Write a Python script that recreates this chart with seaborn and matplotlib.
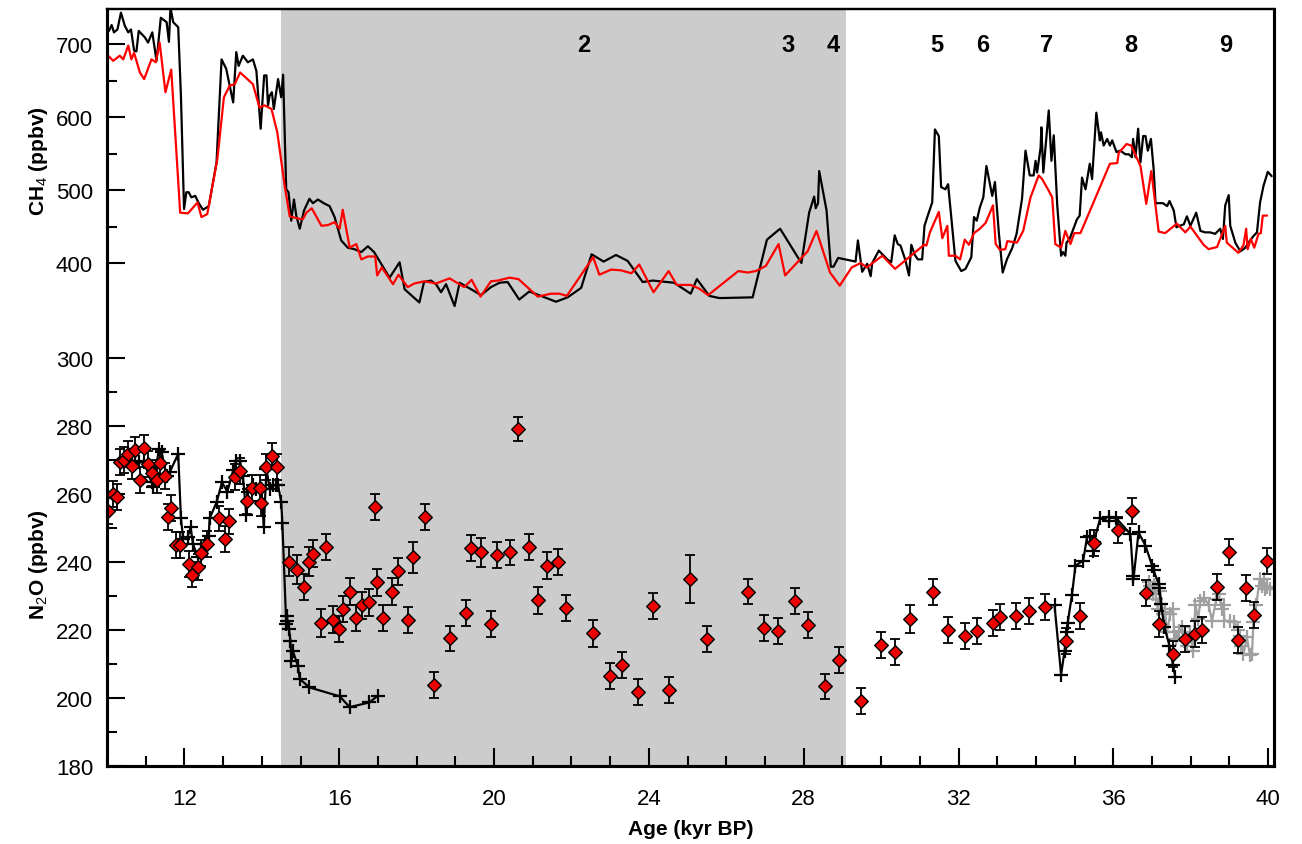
import matplotlib
matplotlib.use("Agg")
import matplotlib.pyplot as plt
import seaborn as sns
import pandas as pd
import numpy as np
from matplotlib.ticker import MultipleLocator, FixedLocator

# ---------------- data ----------------
# CH4 (black, high-resolution record)
ch4_black_age = [10.05,10.12,10.18,10.27,10.36,10.46,10.55,10.62,10.70,10.76,10.82,10.98,11.06,11.17,11.28,11.39,
    11.54,11.60,11.64,11.71,11.84,11.91,11.99,12.05,12.11,12.18,12.28,12.37,12.48,12.63,12.83,12.96,13.08,13.26,
    13.34,13.40,13.51,13.64,13.77,13.86,13.97,14.06,14.12,14.16,14.20,14.26,14.31,14.42,14.50,14.55,14.63,14.69,
    14.76,14.83,14.89,14.98,15.09,15.23,15.32,15.45,15.60,15.75,15.88,16.05,16.22,16.39,16.57,16.74,16.90,17.07,
    17.30,17.56,17.69,18.07,18.19,18.37,18.50,18.63,18.76,18.98,19.11,19.41,19.66,19.92,20.14,20.35,20.65,20.91,
    21.21,21.60,21.90,22.25,22.52,22.83,23.15,23.45,23.84,24.10,24.65,25.08,25.24,25.56,25.82,26.68,27.05,27.39,
    27.94,28.14,28.27,28.31,28.37,28.40,28.59,28.70,28.77,28.89,29.34,29.40,29.51,29.64,29.73,29.77,29.94,30.16,
    30.26,30.35,30.43,30.50,30.62,30.72,30.78,30.87,30.95,31.06,31.12,31.23,31.32,31.39,31.49,31.55,31.66,31.73,
    31.92,32.07,32.18,32.33,32.40,32.47,32.55,32.64,32.72,32.87,32.94,33.04,33.14,33.25,33.39,33.50,33.64,33.73,
    33.84,33.94,33.99,34.03,34.12,34.14,34.19,34.33,34.40,34.46,34.55,34.65,34.70,34.76,34.79,34.87,35.06,35.13,
    35.19,35.28,35.39,35.45,35.56,35.65,35.68,35.75,35.84,35.91,35.97,36.08,36.18,36.31,36.40,36.48,36.51,36.57,
    36.64,36.70,36.77,36.83,36.89,36.97,37.04,37.09,37.28,37.39,37.45,37.56,37.63,37.71,37.82,37.90,37.99,38.14,
    38.25,38.37,38.50,38.63,38.76,38.83,38.89,38.98,39.02,39.15,39.28,39.41,39.49,39.62,39.71,39.79,39.88,39.99,40.09]
ch4_black_val = [718,726,716,720,743,725,716,720,691,690,718,709,702,716,677,736,
    730,703,750,730,723,629,474,497,497,490,492,482,473,478,538,679,666,620,
    689,670,684,675,679,663,584,657,657,616,629,634,611,652,627,658,501,497,
    458,487,465,447,472,488,482,487,482,478,463,431,421,419,415,423,415,400,
    380,401,364,346,374,376,371,360,371,341,373,364,356,367,373,374,350,361,
    355,347,353,366,412,402,411,403,374,376,373,358,378,355,352,353,432,447,
    400,469,491,475,482,526,472,395,395,407,402,431,388,399,382,400,417,405,
    401,438,426,424,405,383,425,411,405,405,451,469,483,583,574,504,501,508,
    403,389,392,408,463,458,476,490,533,492,511,442,387,405,421,440,488,554,
    520,520,540,524,558,586,524,609,540,575,479,410,415,410,428,433,460,465,
    517,501,536,515,606,568,579,561,570,561,568,552,554,549,549,545,570,545,
    584,538,574,574,554,570,529,482,482,478,485,472,449,451,453,464,451,469,
    444,442,442,440,447,433,479,493,451,428,416,421,428,437,442,483,506,525,519]

# CH4 (red record)
ch4_red_age = [10.05,10.16,10.33,10.42,10.55,10.63,10.70,10.85,10.96,11.15,11.26,11.36,11.51,11.66,11.89,12.09,
    12.34,12.44,12.59,12.85,13.02,13.17,13.30,13.44,13.77,13.94,14.07,14.25,14.40,14.59,14.72,14.93,15.06,15.15,
    15.29,15.54,15.71,15.88,16.01,16.09,16.27,16.44,16.57,16.74,16.93,16.98,17.10,17.39,17.53,17.77,17.94,18.20,
    18.50,18.85,19.23,19.42,19.65,19.92,20.10,20.40,20.63,21.13,21.47,21.69,21.88,22.56,22.72,23.02,23.28,23.55,
    23.75,24.12,24.51,24.72,25.08,25.30,25.53,26.31,26.55,26.76,27.02,27.35,27.52,28.10,28.33,28.68,28.93,29.24,
    29.47,29.63,30.03,30.36,31.11,31.17,31.26,31.49,31.58,31.71,31.75,31.92,32.04,32.16,32.27,32.40,32.55,32.70,
    32.89,32.96,33.07,33.21,33.26,33.51,33.67,33.86,34.07,34.16,34.31,34.42,34.50,34.65,34.76,34.89,34.99,35.15,
    35.91,36.10,36.14,36.34,36.46,36.70,36.85,36.98,37.17,37.34,37.64,37.86,37.99,38.33,38.46,38.68,38.89,38.93,
    39.23,39.36,39.43,39.47,39.55,39.64,39.75,39.81,39.86,39.97]
ch4_red_val = [683,677,684,679,698,679,688,661,652,679,675,702,634,665,469,468,
    483,463,467,542,627,643,645,661,645,613,616,611,579,506,464,461,460,469,
    475,451,452,456,447,473,421,426,405,409,409,383,394,371,384,367,372,375,
    372,379,367,377,354,375,376,380,378,354,358,358,355,408,384,391,390,386,
    398,360,389,370,370,365,356,389,387,389,396,426,383,416,444,387,369,394,
    400,394,410,392,425,424,442,470,434,451,410,410,405,432,425,441,447,455,
    479,426,418,419,430,428,444,490,520,515,501,490,426,421,444,426,441,441,
    536,537,551,563,561,533,481,526,443,441,454,442,450,425,419,422,451,428,
    414,424,447,419,433,421,440,441,465,465]

# N2O discrete measurements (red diamonds) with 1-sigma errors
n2o_pt_age = [10.03,10.16,10.26,10.33,10.43,10.55,10.65,10.72,10.86,10.96,11.06,11.15,11.28,11.37,11.51,11.58,
    11.66,11.79,11.89,12.11,12.20,12.34,12.44,12.58,12.89,13.04,13.14,13.30,13.44,13.62,13.75,13.94,13.99,14.12,
    14.25,14.39,14.71,14.91,15.08,15.22,15.32,15.54,15.66,15.84,15.99,16.11,16.27,16.44,16.59,16.78,16.93,16.97,
    17.13,17.37,17.53,17.77,17.90,18.22,18.46,18.85,19.28,19.41,19.65,19.92,20.07,20.40,20.63,20.89,21.13,21.37,
    21.66,21.87,22.56,22.99,23.30,23.73,24.11,24.51,25.07,25.51,26.55,26.98,27.34,27.78,28.10,28.55,28.90,29.47,
    30.00,30.36,30.74,31.35,31.73,32.16,32.48,32.89,33.07,33.49,33.82,34.23,34.77,35.15,35.51,36.11,36.47,36.85,
    37.17,37.53,37.86,38.12,38.29,38.69,38.98,39.22,39.43,39.64,39.97]
n2o_pt_val = [255.1,260.0,259.0,269.3,270.1,271.8,268.3,273.0,264.1,273.5,268.8,266.1,264.1,269.0,265.4,253.3,
    255.8,245.0,245.0,239.4,236.3,238.4,242.6,245.3,252.8,246.8,251.9,265.0,266.8,257.8,261.7,261.7,257.4,267.8,
    271.1,267.8,240.1,237.7,232.7,240.1,242.4,222.1,244.3,223.0,220.3,226.2,231.3,223.5,227.2,228.1,256.1,234.0,
    223.4,231.3,237.3,223.0,241.4,253.3,203.8,217.5,225.0,244.0,242.8,221.8,242.1,242.8,279.1,244.3,228.7,238.9,
    240.1,226.4,219.0,206.4,209.8,201.7,227.1,202.4,235.0,217.4,231.3,220.6,219.8,228.4,221.4,203.4,211.1,199.0,
    215.7,213.4,223.2,231.1,220.0,218.3,219.8,222.1,223.7,224.0,225.7,226.7,216.7,224.0,245.6,249.4,254.9,230.8,
    221.8,213.0,217.4,218.7,220.0,232.7,243.0,217.1,232.4,224.5,240.4]
n2o_pt_err = [3.8,3.8,3.8,3.8,3.8,3.8,3.8,3.8,3.8,3.8,3.8,3.8,3.8,3.8,3.8,3.8,
    3.8,3.8,3.8,3.8,3.8,3.8,3.8,3.8,3.8,3.8,3.8,3.8,3.8,3.8,3.8,3.8,3.8,3.8,
    3.8,3.8,4.2,4.2,3.8,4.2,4.0,4.2,3.8,4.0,3.8,3.8,4.0,3.8,4.0,4.0,3.8,4.0,
    3.8,4.0,4.0,3.8,4.6,3.8,3.8,3.8,3.8,3.8,4.2,3.8,3.8,3.8,3.4,3.8,4.0,4.0,
    3.8,3.8,3.9,3.8,3.8,3.8,3.8,3.8,7.0,3.8,3.8,3.8,3.8,3.8,3.8,3.8,3.8,3.8,
    3.8,3.8,4.0,3.8,3.8,3.8,3.8,3.8,3.8,3.8,3.8,3.8,3.8,3.8,3.8,3.8,3.8,3.8,
    3.8,3.8,3.8,3.8,3.8,3.8,3.8,3.8,3.8,3.8,3.8]

# N2O continuous records (black crosses, two segments; grey crosses)
n2o_a_age = [10.72,10.83,10.96,11.15,11.19,11.34,11.41,11.54,11.62,11.84,11.91,11.97,12.08,12.16,12.22,12.35,
    12.44,12.54,12.63,12.65,12.83,12.97,13.11,13.26,13.34,13.43,13.51,13.60,13.64,13.77,13.86,13.99,14.05,14.12,
    14.20,14.29,14.37,14.42,14.50,14.53,14.63,14.65,14.66,14.70,14.74,14.76,14.80,14.93,14.98,15.23,16.01,16.27,
    16.78,17.00]
n2o_a_val = [269.8,269.3,269.3,263.4,261.9,273.2,272.3,265.4,266.4,271.8,252.8,246.8,247.3,250.2,245.3,241.4,
    242.8,245.3,247.5,252.8,257.5,263.4,260.7,266.9,269.8,269.8,265.4,253.8,260.5,262.5,261.5,261.5,250.2,267.4,
    261.5,262.5,262.6,262.6,257.7,251.5,221.8,224.2,222.7,220.3,216.9,211.0,213.9,209.5,205.6,203.1,200.5,197.3,
    198.7,200.7]
n2o_b_age = [34.48,34.65,34.74,34.79,34.82,34.93,35.02,35.22,35.32,35.39,35.48,35.49,35.66,35.88,35.90,36.08,
    36.44,36.51,36.52,36.65,36.83,37.00,37.04,37.17,37.19,37.23,37.32,37.45,37.54,37.60]
n2o_b_val = [227.2,206.9,213.9,219.3,222.1,230.3,238.9,240.4,247.3,247.7,243.3,245.8,252.8,251.9,253.1,252.8,
    248.2,236.0,235.0,248.7,244.8,238.9,237.5,233.5,232.3,227.6,220.8,215.4,209.7,206.1]
n2o_g_age = [36.91,36.95,37.02,37.06,37.11,37.15,37.21,37.28,37.34,37.38,37.47,37.54,37.57,37.63,37.69,37.77,
    37.82,37.90,37.97,38.06,38.12,38.19,38.25,38.35,38.46,38.55,38.66,38.72,38.80,38.85,38.87,39.02,39.12,39.23,
    39.26,39.29,39.36,39.45,39.53,39.58,39.62,39.69,39.78,39.84,39.88,39.92,39.98,40.05]
n2o_g_val = [234.2,232.8,230.6,233.2,229.1,226.2,231.6,224.7,225.2,219.3,224.7,226.2,219.3,217.4,219.8,220.8,
    216.9,215.4,219.3,213.9,227.4,223.2,228.6,229.4,227.4,222.7,229.1,230.6,226.2,227.2,222.7,222.5,222.3,220.1,
    218.3,215.4,212.9,217.8,212.5,213.0,222.3,227.2,235.0,232.8,235.0,232.1,232.6,232.1]

# Event labels
event_labels = ["2", "3", "4", "5", "6", "7", "8", "9"]
event_age = [22.32, 27.59, 28.75, 31.43, 32.62, 34.27, 36.44, 38.89]
event_ch4 = [700, 700, 700, 700, 700, 700, 700, 700]

shade_start, shade_end = 14.5, 29.1

# ---------------- plotting ----------------
sns.set_theme(style="ticks")
plt.rcParams['font.family'] = ['Liberation Sans', 'DejaVu Sans']
plt.rcParams['mathtext.fontset'] = 'custom'
plt.rcParams['mathtext.rm'] = 'Liberation Sans'
plt.rcParams['mathtext.bf'] = 'Liberation Sans:bold'
for k in ['text.color', 'axes.labelcolor', 'xtick.color', 'ytick.color', 'axes.edgecolor']:
    plt.rcParams[k] = 'black'

fig = plt.figure(figsize=(13.02, 8.45), dpi=100)
ax = fig.add_axes([107/1302, 78/845, 1167/1302, 757/845])
ax.set_xlim(10, 40.15)
ax.set_ylim(180, 402.6)
ax.axvspan(shade_start, shade_end, color="#cccccc", lw=0, zorder=0)

ax2 = ax.twinx()
ax2.set_ylim(-289, 748)
ax2.yaxis.tick_left()
ax2.yaxis.set_label_position('left')

# CH4
df_cb = pd.DataFrame({"age": ch4_black_age, "ch4": ch4_black_val})
df_cr = pd.DataFrame({"age": ch4_red_age, "ch4": ch4_red_val})
sns.lineplot(data=df_cb, x="age", y="ch4", ax=ax2, color="black", lw=1.6, sort=False, estimator=None)
sns.lineplot(data=df_cr, x="age", y="ch4", ax=ax2, color="#ff0000", lw=1.6, sort=False, estimator=None)

# N2O continuous
df_a = pd.DataFrame({"age": n2o_a_age, "n2o": n2o_a_val})
df_b = pd.DataFrame({"age": n2o_b_age, "n2o": n2o_b_val})
df_g = pd.DataFrame({"age": n2o_g_age, "n2o": n2o_g_val})
for d, c in [(df_g, "#a0a0a0"), (df_a, "black"), (df_b, "black")]:
    sns.lineplot(data=d, x="age", y="n2o", ax=ax, color=c, lw=1.6, sort=False, estimator=None,
                 marker="+", markersize=10, markeredgewidth=1.6, markeredgecolor=c)

# N2O discrete with error bars
ax.errorbar(n2o_pt_age, n2o_pt_val, yerr=n2o_pt_err, fmt="none", ecolor="black",
            elinewidth=1.3, capsize=3.5, capthick=1.3, zorder=4)
df_p = pd.DataFrame({"age": n2o_pt_age, "n2o": n2o_pt_val})
sns.scatterplot(data=df_p, x="age", y="n2o", ax=ax, marker="D", s=48, color="#ee0000",
                edgecolor="black", linewidth=1.0, zorder=5)

# event numbers
for lab, xa, ya in zip(event_labels, event_age, event_ch4):
    ax2.text(xa, ya, lab, ha="center", va="center", fontsize=17, fontweight="bold")

# ticks
ax.xaxis.set_major_locator(FixedLocator([12, 16, 20, 24, 28, 32, 36, 40]))
ax.xaxis.set_minor_locator(MultipleLocator(1))
ax.set_yticks([180, 200, 220, 240, 260, 280, 300])
ax.yaxis.set_minor_locator(FixedLocator([190, 210, 230, 250, 270, 290]))
ax2.set_yticks([400, 500, 600, 700])
ax2.yaxis.set_minor_locator(FixedLocator([450, 550, 650]))

for a in (ax, ax2):
    a.tick_params(which="major", direction="in", length=13, width=1.5, labelsize=16, pad=10,
                  left=True, right=False, top=False, colors="black")
    a.tick_params(which="minor", direction="in", length=7, width=1.5, left=True, right=False, top=False,
                  colors="black")
    for s in ["left", "bottom", "right"]:
        a.spines[s].set_linewidth(2.2)
        a.spines[s].set_color("black")
    a.spines["top"].set_linewidth(1.6)
    a.spines["top"].set_color("black")
ax.tick_params(axis="x", which="major", pad=16)

ax.set_xlabel("Age (kyr BP)", fontsize=15, fontweight="bold", labelpad=7)
ax.set_ylabel(r"N$_2$O (ppbv)", fontsize=15, fontweight="bold")
ax2.set_ylabel(r"CH$_4$ (ppbv)", fontsize=15, fontweight="bold")
ax.yaxis.set_label_coords(-0.049, 0.267)
ax2.yaxis.set_label_coords(-0.049, 0.80)

fig.savefig("out.png", dpi=100)
